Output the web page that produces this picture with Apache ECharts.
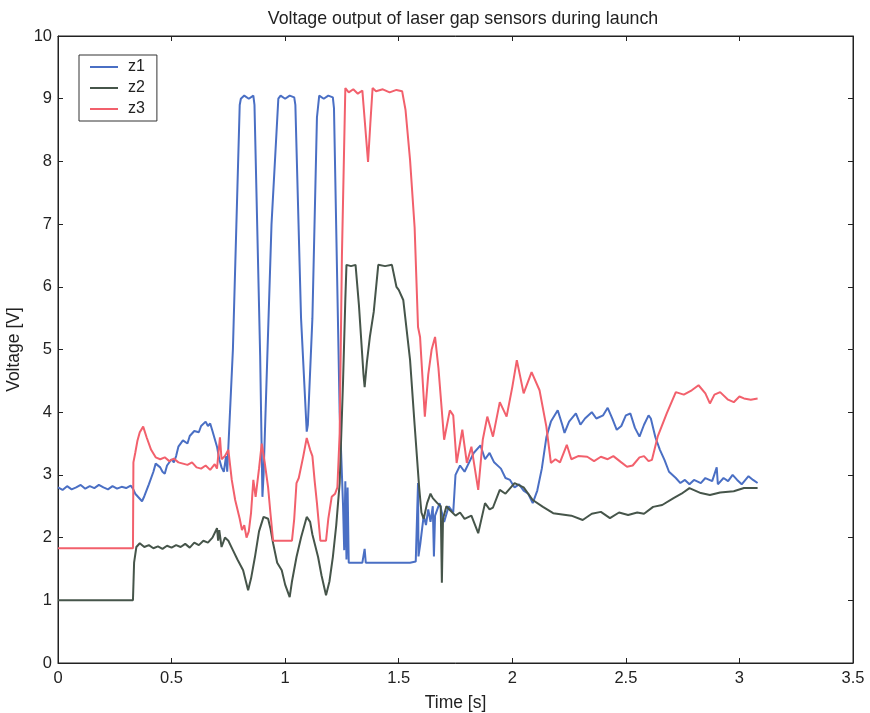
<!DOCTYPE html>
<html>
<head>
<meta charset="utf-8">
<script src="https://cdn.jsdelivr.net/npm/echarts@6/dist/echarts.min.js"></script>
<style>html,body{margin:0;padding:0;background:#fff;}#c{width:870px;height:713px;}</style>
</head>
<body>
<div id="c"></div>
<script>
const titleText = "Voltage output of laser gap sensors during launch";
const xTicks = [0, 0.5, 1, 1.5, 2, 2.5, 3, 3.5];
const yTicks = [0,1,2,3,4,5,6,7,8,9,10];
const seriesNames = ["z1", "z2", "z3"];

const z1T = [0.00,0.02,0.04,0.06,0.08,0.10,0.12,0.14,0.16,0.18,0.20,0.22,0.24,0.26,0.28,0.30,0.32,0.33,0.34,0.35,0.36,0.37,0.38,0.40,0.42,0.43,0.45,0.46,0.47,0.48,0.50,0.51,0.52,0.53,0.55,0.57,0.58,0.60,0.62,0.63,0.65,0.66,0.67,0.68,0.70,0.71,0.72,0.73,0.74,0.745,0.77,0.80,0.805,0.82,0.84,0.86,0.865,0.89,0.90,0.905,0.94,0.97,0.98,1.00,1.02,1.04,1.045,1.07,1.095,1.10,1.12,1.14,1.15,1.17,1.19,1.21,1.215,1.24,1.255,1.26,1.265,1.27,1.275,1.28,1.30,1.34,1.35,1.355,1.40,1.45,1.50,1.55,1.575,1.58,1.585,1.587,1.595,1.60,1.61,1.62,1.63,1.64,1.65,1.655,1.66,1.68,1.70,1.72,1.74,1.75,1.77,1.79,1.81,1.83,1.86,1.88,1.90,1.92,1.95,1.97,1.99,2.01,2.03,2.05,2.07,2.09,2.11,2.13,2.15,2.17,2.20,2.22,2.23,2.25,2.28,2.30,2.32,2.35,2.37,2.40,2.42,2.44,2.46,2.48,2.50,2.52,2.54,2.56,2.58,2.60,2.61,2.63,2.65,2.67,2.69,2.72,2.74,2.76,2.78,2.80,2.83,2.85,2.88,2.90,2.905,2.93,2.95,2.97,2.99,3.01,3.04,3.06,3.08];
const z1V = [2.80,2.76,2.82,2.77,2.80,2.84,2.78,2.82,2.79,2.84,2.80,2.77,2.82,2.78,2.81,2.79,2.83,2.78,2.70,2.66,2.62,2.58,2.66,2.85,3.05,3.18,3.12,3.05,3.02,3.15,3.25,3.20,3.30,3.45,3.55,3.50,3.62,3.70,3.68,3.78,3.85,3.78,3.82,3.70,3.45,3.25,3.12,3.05,3.30,3.05,5.0,8.9,9.0,9.05,9.0,9.05,8.9,4.9,2.65,3.0,7.0,9.0,9.05,9.0,9.05,9.02,8.9,5.5,3.69,3.8,5.5,8.7,9.05,9.0,9.05,9.02,8.85,4.0,2.5,1.8,2.9,1.65,2.8,1.6,1.6,1.6,1.82,1.6,1.6,1.6,1.6,1.6,1.62,1.62,2.87,1.7,1.9,2.05,2.35,2.2,2.45,2.25,2.5,1.7,2.35,2.55,2.25,2.5,2.4,3.0,3.15,3.05,3.2,3.35,3.47,3.25,3.35,3.2,3.1,2.95,2.92,2.8,2.85,2.75,2.7,2.55,2.75,3.1,3.6,3.85,4.03,3.8,3.67,3.85,3.98,3.8,3.9,4.0,3.9,3.95,4.07,3.9,3.72,3.78,3.95,3.98,3.75,3.61,3.8,3.95,3.9,3.6,3.4,3.24,3.05,2.95,2.87,2.92,2.85,2.92,2.87,2.95,2.9,3.12,2.85,2.95,2.9,3.0,2.92,2.85,2.98,2.92,2.87];

const z2T = [0.00,0.33,0.335,0.345,0.36,0.38,0.40,0.42,0.44,0.46,0.48,0.50,0.52,0.54,0.56,0.58,0.60,0.62,0.64,0.66,0.68,0.70,0.705,0.71,0.72,0.735,0.75,0.77,0.79,0.815,0.837,0.85,0.867,0.885,0.905,0.925,0.935,0.947,0.965,0.985,1.00,1.02,1.03,1.05,1.07,1.095,1.11,1.12,1.145,1.16,1.18,1.195,1.21,1.225,1.24,1.255,1.265,1.27,1.29,1.31,1.325,1.345,1.35,1.36,1.373,1.39,1.41,1.44,1.47,1.49,1.50,1.52,1.55,1.57,1.59,1.60,1.61,1.625,1.64,1.65,1.67,1.685,1.69,1.695,1.71,1.725,1.75,1.77,1.79,1.82,1.85,1.88,1.90,1.915,1.945,1.97,2.01,2.05,2.09,2.135,2.18,2.22,2.26,2.31,2.35,2.39,2.43,2.47,2.51,2.55,2.58,2.62,2.66,2.71,2.745,2.78,2.83,2.87,2.915,2.975,3.02,3.08];
const z2V = [1.0,1.0,1.6,1.85,1.91,1.85,1.88,1.83,1.86,1.82,1.87,1.84,1.88,1.85,1.90,1.84,1.92,1.88,1.95,1.92,2.0,2.15,1.95,2.12,1.85,2.0,1.95,1.8,1.65,1.48,1.16,1.35,1.69,2.1,2.33,2.3,2.15,1.91,1.6,1.48,1.25,1.05,1.3,1.69,2.0,2.33,2.25,2.05,1.69,1.4,1.08,1.3,1.69,2.2,2.87,4.5,5.8,6.35,6.33,6.35,5.7,4.6,4.4,4.8,5.2,5.6,6.35,6.33,6.35,6.0,5.95,5.79,4.83,3.8,2.8,2.4,2.3,2.55,2.7,2.63,2.55,2.5,1.28,2.3,2.5,2.44,2.35,2.4,2.3,2.35,2.07,2.55,2.45,2.48,2.76,2.7,2.87,2.8,2.6,2.49,2.39,2.37,2.35,2.28,2.38,2.41,2.31,2.4,2.36,2.4,2.38,2.49,2.52,2.63,2.7,2.79,2.71,2.68,2.72,2.74,2.79,2.79];

const z3T = [0.00,0.33,0.332,0.34,0.35,0.36,0.375,0.39,0.41,0.43,0.45,0.47,0.49,0.51,0.53,0.55,0.57,0.59,0.61,0.63,0.65,0.67,0.69,0.70,0.713,0.72,0.735,0.75,0.765,0.78,0.80,0.81,0.82,0.83,0.84,0.85,0.86,0.87,0.885,0.897,0.91,0.925,0.935,0.947,0.97,1.00,1.03,1.04,1.05,1.06,1.08,1.095,1.11,1.12,1.13,1.14,1.155,1.17,1.18,1.19,1.205,1.22,1.23,1.24,1.25,1.265,1.28,1.30,1.32,1.34,1.345,1.365,1.375,1.385,1.40,1.43,1.46,1.49,1.515,1.53,1.55,1.57,1.585,1.594,1.60,1.615,1.63,1.645,1.66,1.675,1.70,1.725,1.74,1.755,1.78,1.80,1.82,1.85,1.87,1.89,1.915,1.945,1.975,2.00,2.02,2.05,2.085,2.12,2.15,2.17,2.19,2.21,2.24,2.26,2.29,2.33,2.36,2.39,2.42,2.445,2.48,2.505,2.53,2.56,2.58,2.60,2.615,2.64,2.68,2.72,2.755,2.79,2.82,2.85,2.87,2.89,2.915,2.95,2.975,3.00,3.02,3.05,3.08];
const z3V = [1.83,1.83,3.2,3.35,3.55,3.68,3.77,3.6,3.4,3.28,3.25,3.28,3.22,3.26,3.2,3.18,3.16,3.2,3.12,3.1,3.15,3.08,3.17,3.10,3.6,3.25,3.3,3.4,2.92,2.6,2.3,2.12,2.2,2.0,2.1,2.4,2.92,2.65,3.1,3.5,3.2,2.8,2.4,1.95,1.95,1.95,1.95,2.3,2.87,2.95,3.3,3.59,3.4,3.3,2.9,2.55,1.95,1.95,1.95,2.3,2.65,2.7,2.8,3.66,6.5,9.17,9.1,9.15,9.08,9.13,8.9,7.99,8.6,9.17,9.12,9.15,9.1,9.14,9.12,8.82,8.02,6.95,5.36,5.2,4.83,3.93,4.6,5.0,5.2,4.7,3.56,4.03,3.95,3.19,3.72,3.19,3.45,2.76,3.56,3.93,3.61,4.16,3.93,4.4,4.83,4.3,4.64,4.35,3.77,3.19,3.25,3.2,3.48,3.25,3.3,3.29,3.22,3.29,3.25,3.3,3.2,3.13,3.15,3.28,3.3,3.22,3.24,3.61,3.98,4.32,4.28,4.35,4.43,4.3,4.14,4.28,4.32,4.2,4.16,4.25,4.22,4.2,4.22];

const colors = ["#4a6fc4", "#46554a", "#f2606c"];
const font = "Liberation Sans, Arial, Helvetica, sans-serif";

function pairs(T, V) { return T.map((t, i) => [t, V[i]]); }

const chart = echarts.init(document.getElementById('c'), null, {renderer: 'canvas'});
const axisCommon = {
  type: 'value',
  axisLine: {show: true, onZero: false, lineStyle: {color: '#222', width: 1}},
  axisTick: {show: true, inside: true, length: 5, lineStyle: {color: '#222'}},
  splitLine: {show: false}
};
chart.setOption({
  animation: false,
  backgroundColor: '#fff',
  title: {text: titleText, left: 458, top: 5, textAlign: 'center',
    textStyle: {fontFamily: font, fontSize: 17.8, fontWeight: 'normal', color: '#222'}},
  legend: {
    data: seriesNames, orient: 'vertical', left: 79, top: 55,
    borderColor: '#333', borderWidth: 1, padding: [4, 12, 4, 11],
    itemGap: 5, itemWidth: 28, itemHeight: 2, icon: 'rect',
    textStyle: {fontFamily: font, fontSize: 16, color: '#222', padding: [0, 0, 0, 5]}
  },
  grid: {left: 58, right: 17, top: 36, bottom: 50, show: true, borderColor: '#222', borderWidth: 1,
    containLabel: false, outerBoundsMode: 'none'},
  xAxis: [
    Object.assign({}, axisCommon, {min: 0, max: 3.5, interval: 0.5, position: 'bottom',
      name: 'Time [s]', nameLocation: 'middle', nameGap: 31,
      nameTextStyle: {fontFamily: font, fontSize: 17.5, color: '#222'},
      axisLabel: {margin: 7, fontFamily: font, fontSize: 16.5, color: '#222',
        formatter: v => xTicks.includes(v) ? String(v) : ''}}),
    Object.assign({}, axisCommon, {min: 0, max: 3.5, interval: 0.5, position: 'top', axisLabel: {show: false}})
  ],
  yAxis: [
    Object.assign({}, axisCommon, {min: 0, max: 10, interval: 1, position: 'left',
      name: 'Voltage [V]', nameLocation: 'middle', nameGap: 30,
      nameTextStyle: {fontFamily: font, fontSize: 17.5, color: '#222'},
      axisLabel: {margin: 6, fontFamily: font, fontSize: 16.5, color: '#222',
        formatter: v => yTicks.includes(v) ? String(v) : ''}}),
    Object.assign({}, axisCommon, {min: 0, max: 10, interval: 1, position: 'right', axisLabel: {show: false}})
  ],
  series: [
    {name: 'z1', type: 'line', data: pairs(z1T, z1V), showSymbol: false, color: colors[0],
      lineStyle: {width: 2, color: colors[0]}},
    {name: 'z2', type: 'line', data: pairs(z2T, z2V), showSymbol: false, color: colors[1],
      lineStyle: {width: 2, color: colors[1]}},
    {name: 'z3', type: 'line', data: pairs(z3T, z3V), showSymbol: false, color: colors[2],
      lineStyle: {width: 2, color: colors[2]}}
  ]
});
</script>
</body>
</html>
